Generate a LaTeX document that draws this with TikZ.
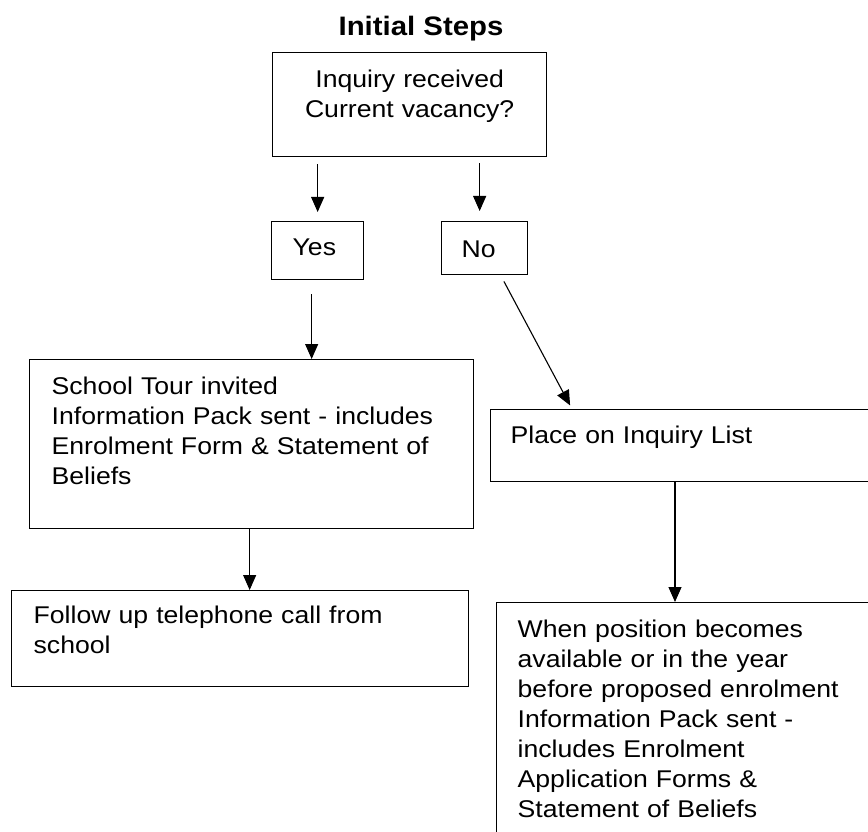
\documentclass[tikz,border=0pt]{standalone}
\usepackage{fontspec}
\setmainfont{Liberation Sans}[FakeStretch=1.1]
\usetikzlibrary{arrows.meta}
\tikzset{
  stepbox/.style={draw, line width=1.3pt, anchor=north west, inner ysep=0pt,
    font={\fontsize{24.2}{30}\selectfont}, align=left},
  arr/.style={draw, line width=1.1pt, -{Triangle[width=13pt,length=15pt]}},
}
\begin{document}
\begin{tikzpicture}[x=1pt, y=-1pt]
\useasboundingbox (0,0) rectangle (868,832);
\clip (0,0) rectangle (868,832);

\node[anchor=base, font={\fontsize{26.7}{30}\selectfont\bfseries}] (title) at (421,36) {Initial Steps};

\node[stepbox, align=center, inner xsep=20pt, text width=234pt, text height=35pt, text depth=69pt] (top) at (272,52)
  {Inquiry received\\Current vacancy?};

\node[stepbox, inner xsep=21pt, text width=50pt, text height=34pt, text depth=24pt] (yes) at (271,221) {Yes};
\node[stepbox, inner xsep=20pt, text width=46pt, text height=36pt, text depth=17pt] (no) at (441,221) {No};

\node[stepbox, inner xsep=22pt, text width=400pt, text height=35pt, text depth=134pt] (school) at (29,359)
  {School Tour invited\\Information Pack sent - includes\\Enrolment Form \& Statement of\\Beliefs};

\node[stepbox, inner xsep=20pt, text width=380pt, text height=34pt, text depth=38pt] (place) at (490,409)
  {Place on Inquiry List};

\node[stepbox, inner xsep=22pt, text width=413pt, text height=33pt, text depth=63pt] (follow) at (11,590)
  {Follow up telephone call from\\school};

\node[stepbox, inner xsep=21pt, text width=380pt, text height=35pt, text depth=235pt] (when) at (496,602)
  {When position becomes\\available or in the year\\before proposed enrolment\\Information Pack sent -\\includes Enrolment\\Application Forms \&\\Statement of Beliefs};

% connectors
\draw[arr, shorten <=7pt, shorten >=9pt] (top.south -| yes.north) -- (yes.north);
\coordinate (nx) at ([xshift=-5pt]no.north);
\draw[arr, shorten <=6pt, shorten >=10pt] (nx |- top.south) -- (nx);
\coordinate (yx) at ([xshift=-6pt]yes.south);
\draw[arr, shorten <=14pt] (yx) -- (yx |- school.north);
\coordinate (ns) at ([xshift=16pt]no.south);
\coordinate (pn) at ([xshift=82pt]place.north west);
\draw[arr, shorten <=7pt, shorten >=4pt] (ns) -- (pn);
\coordinate (sx) at ([xshift=-2pt]school.south);
\draw[arr] (sx) -- (sx |- follow.north);
\coordinate (px) at ([xshift=185pt]place.south west);
\draw[arr] (px) -- (px |- when.north);
\end{tikzpicture}
\end{document}
